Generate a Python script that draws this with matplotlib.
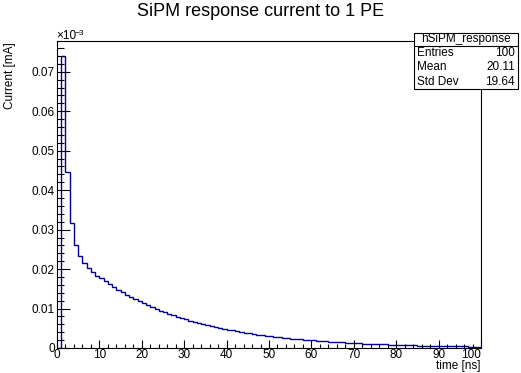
"""SiPM single-photoelectron response current, drawn in a ROOT-like style."""

import matplotlib

matplotlib.use("Agg")
import matplotlib.pyplot as plt
import numpy as np
from matplotlib.patches import Rectangle
from matplotlib.ticker import FuncFormatter, MultipleLocator
from matplotlib.transforms import blended_transform_factory, offset_copy

plt.rcParams["font.family"] = ["Liberation Sans", "DejaVu Sans"]

# 100 bins of 1 ns from 0 to 100 ns; current in units of 1e-3 mA
bin_edges = list(range(0, 101))
current = [
    0.0, 0.0741, 0.0445, 0.0317, 0.0261, 0.0232, 0.0215, 0.0202, 0.0192, 0.0183,
    0.01768, 0.01691, 0.01618, 0.01547, 0.01480, 0.01416, 0.01354, 0.01295, 0.01239, 0.01185,
    0.01134, 0.01084, 0.01037, 0.00992, 0.00949, 0.00908, 0.00868, 0.00831, 0.00794, 0.00760,
    0.00727, 0.00695, 0.00665, 0.00636, 0.00609, 0.00582, 0.00557, 0.00533, 0.00509, 0.00487,
    0.00466, 0.00446, 0.00426, 0.00408, 0.00390, 0.00373, 0.00357, 0.00341, 0.00327, 0.00312,
    0.00299, 0.00286, 0.00273, 0.00261, 0.00250, 0.00239, 0.00229, 0.00219, 0.00209, 0.00200,
    0.00192, 0.00183, 0.00175, 0.00168, 0.00160, 0.00153, 0.00147, 0.00140, 0.00134, 0.00128,
    0.00123, 0.00118, 0.00112, 0.00107, 0.00103, 0.00098, 0.00094, 0.00090, 0.00086, 0.00082,
    0.00079, 0.00075, 0.00072, 0.00069, 0.00066, 0.00063, 0.00060, 0.00058, 0.00055, 0.00053,
    0.00050, 0.00048, 0.00046, 0.00044, 0.00042, 0.00040, 0.00039, 0.00037, 0.00035, 0.00034,
]

stat_names = ["Entries", "Mean", "Std Dev"]
stat_values = ["100", "20.11", "19.64"]

FS = 8.5
XMAX = 100
W, H = 521, 373
fig = plt.figure(figsize=(W / 100, H / 100), dpi=100)
ax = fig.add_axes([57 / W, 1 - 348 / H, 424 / W, 307 / H])

ax.stairs(current, bin_edges, color="#000099", linewidth=1.0, baseline=0)

ax.set_xlim(0, XMAX)
ax.set_ylim(0, 0.0778)

ax.xaxis.set_major_locator(MultipleLocator(10))
ax.xaxis.set_minor_locator(MultipleLocator(2))
ax.yaxis.set_major_locator(MultipleLocator(0.01))
ax.yaxis.set_minor_locator(MultipleLocator(0.002))
ax.yaxis.set_major_formatter(FuncFormatter(lambda v, p: "0" if abs(v) < 1e-9 else f"{v:.2f}"))
# last label is drawn separately, pulled inside the frame like ROOT does
ax.xaxis.set_major_formatter(FuncFormatter(lambda v, p: "" if v >= XMAX else f"{v:.0f}"))

ax.tick_params(axis="y", which="major", direction="in", length=9.5, width=0.8,
               labelsize=FS, pad=1.5, right=False)
ax.tick_params(axis="y", which="minor", direction="in", length=4.7, width=0.8, right=False)
ax.tick_params(axis="x", which="major", direction="in", length=6, width=0.8,
               labelsize=FS, pad=1.0, top=False)
ax.tick_params(axis="x", which="minor", direction="in", length=3, width=0.8, top=False)
for sp in ax.spines.values():
    sp.set_linewidth(0.8)

trans = offset_copy(blended_transform_factory(ax.transData, ax.transAxes),
                    fig=fig, x=0, y=-1.0, units="points")
ax.text(XMAX, 0, f"{XMAX}", transform=trans, ha="right", va="top", fontsize=FS)

fig.text(0.5, 1 - 12 / H, "SiPM response current to 1 PE", ha="center", va="center", fontsize=13)
fig.text(10 / W, 1 - 42 / H, "Current [mA]", ha="center", va="top", rotation=90, fontsize=FS)
fig.text(481 / W, 1 - 366 / H, "time [ns]", ha="right", va="center", fontsize=FS)
fig.text(56 / W, 1 - 42 / H, "\u00d710", ha="left", va="bottom", fontsize=FS)
fig.text(75 / W, 1 - 37 / H, "\u22123", ha="left", va="bottom", fontsize=6)

# stats box
bx0, bx1, by0, by1 = 414, 518, 33, 89
fig.patches.append(Rectangle((bx0 / W, 1 - by1 / H), (bx1 - bx0) / W, (by1 - by0) / H,
                             transform=fig.transFigure, facecolor="white",
                             edgecolor="black", linewidth=0.8, zorder=5))
fig.lines.append(plt.Line2D([bx0 / W, bx1 / W], [1 - 46 / H, 1 - 46 / H],
                            transform=fig.transFigure, color="black", linewidth=0.8, zorder=6))
fig.text((bx0 + bx1) / 2 / W, 1 - 39 / H, "hSiPM_response", ha="center", va="center",
         fontsize=FS, zorder=7)
for i, (name, val) in enumerate(zip(stat_names, stat_values)):
    yc = 1 - (53 + 14.4 * i) / H
    fig.text(417 / W, yc, name, ha="left", va="center", fontsize=FS, zorder=7)
    fig.text(515 / W, yc, val, ha="right", va="center", fontsize=FS, zorder=7)

fig.savefig("out.png", dpi=100)
